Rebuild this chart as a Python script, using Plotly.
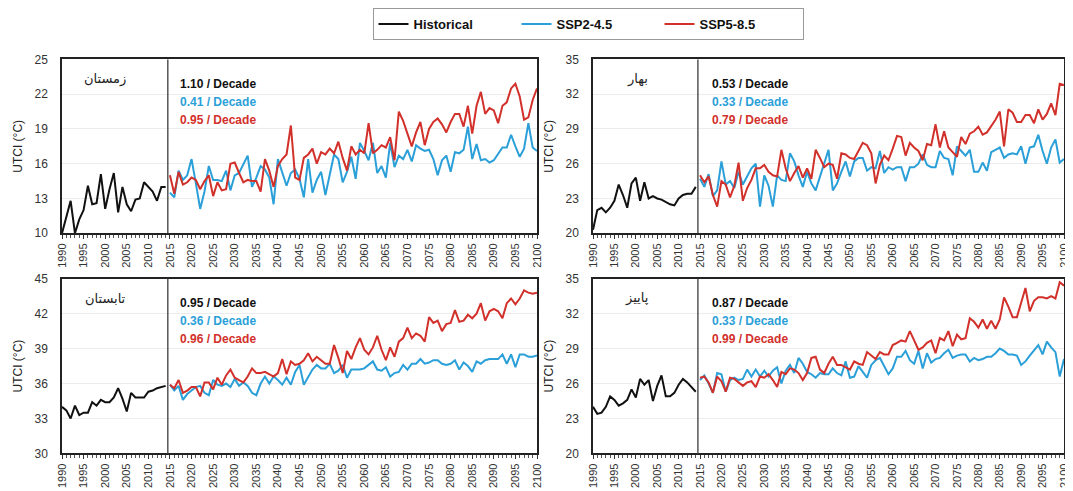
import plotly.graph_objects as go
from plotly.subplots import make_subplots

hist_years = list(range(1990, 2015))
ssp_years = list(range(2015, 2101))

# ---------------- Winter ----------------
winter_hist = [10.0, 11.5, 12.8, 10.0, 11.2, 12.0, 14.1, 12.5, 12.6, 15.1, 12.1, 13.8, 15.2,
               11.8, 14.0, 12.5, 11.9, 12.9, 13.0, 14.4, 14.0, 13.6, 12.8, 14.0, 14.0]
winter_ssp245 = [13.5, 13.1, 15.4, 14.6, 15.0, 16.4, 14.3, 12.1, 13.6, 15.8,
                 14.6, 14.6, 14.5, 15.4, 13.7, 15.0, 15.2, 16.0, 16.7, 14.0,
                 14.8, 15.8, 15.5, 14.8, 12.5, 16.4, 15.2, 14.1, 15.2, 15.5,
                 14.7, 13.1, 16.4, 13.5, 14.6, 15.3, 13.3, 15.0, 16.8, 16.4,
                 14.4, 15.3, 16.6, 14.7, 17.8, 17.1, 16.3, 17.8, 15.2, 15.8,
                 14.8, 17.8, 15.7, 16.7, 16.4, 17.2, 16.2, 17.6, 17.3, 17.1,
                 17.2, 16.4, 15.0, 16.3, 16.7, 15.3, 17.0, 16.9, 17.2, 19.2,
                 16.4, 17.7, 16.3, 16.4, 16.1, 16.3, 16.8, 17.4, 17.4, 18.5,
                 17.5, 16.6, 17.3, 19.5, 17.4, 17.1]
winter_ssp585 = [15.0, 13.4, 15.3, 14.2, 14.4, 14.8, 14.6, 13.8, 14.5, 15.0,
                 13.2, 14.4, 13.7, 13.8, 16.0, 16.1, 15.2, 14.4, 14.6, 14.5,
                 14.5, 13.6, 16.4, 15.4, 14.0, 15.8, 16.4, 16.8, 19.3, 14.8,
                 14.6, 16.5, 16.8, 17.3, 16.0, 17.0, 16.8, 17.3, 16.9, 17.9,
                 16.5, 15.4, 17.5, 16.8, 17.2, 16.9, 19.5, 16.9, 17.2, 17.6,
                 17.4, 18.3, 16.3, 20.5, 19.7, 18.5, 17.5, 18.7, 19.6, 17.6,
                 19.0, 19.6, 19.9, 19.4, 18.7, 19.6, 20.3, 20.3, 19.2, 21.0,
                 18.6, 21.0, 22.2, 20.3, 20.8, 20.6, 19.5, 21.0, 21.3, 22.5,
                 22.9, 21.8, 19.8, 20.0, 21.5, 22.5]

# ---------------- Spring ----------------
spring_hist = [20.3, 22.0, 22.2, 21.8, 22.2, 22.8, 24.2, 23.3, 22.2, 24.3, 24.8, 22.8, 24.4,
               23.0, 23.2, 23.0, 22.9, 22.7, 22.5, 22.4, 23.0, 23.3, 23.4, 23.4, 24.0]
spring_ssp245 = [24.7, 24.0, 25.1, 23.2, 23.7, 26.2, 24.2, 24.5, 23.9, 25.3,
                 24.2, 24.9, 25.6, 26.0, 22.3, 25.0, 24.1, 22.3, 25.0, 24.6,
                 24.5, 26.9, 26.2, 25.0, 24.0, 25.3, 24.3, 23.7, 24.9, 26.0,
                 27.2, 23.7, 24.3, 25.3, 26.2, 24.9, 26.2, 26.5, 26.5, 25.4,
                 25.7, 25.6, 27.1, 25.2, 25.7, 25.5, 25.7, 25.7, 24.5, 25.7,
                 25.7, 26.0, 26.8, 25.9, 25.7, 25.7, 27.1, 26.5, 26.4, 25.0,
                 27.5, 27.1, 26.7, 27.2, 25.3, 25.3, 26.1, 25.4, 27.0, 27.2,
                 27.4, 26.5, 26.8, 26.9, 26.8, 27.5, 26.0, 27.4, 27.5, 28.5,
                 27.1, 26.0, 27.4, 28.1, 26.1, 26.4]
spring_ssp585 = [25.0, 24.4, 24.9, 23.3, 22.3, 24.5, 24.2, 23.1, 24.1, 26.1,
                 22.8, 23.9, 24.6, 25.6, 25.6, 25.9, 25.3, 25.0, 24.9, 27.2,
                 25.6, 24.5, 25.2, 25.8, 24.8, 25.6, 24.7, 27.2, 26.5, 25.7,
                 26.0, 25.9, 24.7, 26.9, 26.8, 26.5, 26.4, 27.1, 27.8, 27.6,
                 26.9, 24.3, 25.9, 26.7, 26.3, 27.3, 28.4, 28.3, 26.7, 27.8,
                 27.4, 27.1, 26.3, 27.7, 27.6, 29.4, 27.4, 28.8, 27.4, 27.0,
                 26.6, 28.3, 27.7, 28.6, 28.8, 29.2, 28.5, 28.7, 29.2, 29.8,
                 30.5, 27.5, 30.7, 30.4, 29.6, 29.6, 30.2, 30.2, 29.5, 30.7,
                 29.8, 30.3, 31.2, 30.2, 32.9, 32.8]

# ---------------- Summer ----------------
summer_hist = [34.0, 33.7, 33.0, 34.1, 33.3, 33.5, 33.5, 34.4, 34.1, 34.6, 34.4, 34.4, 34.8,
               35.6, 34.7, 33.6, 35.2, 34.8, 34.8, 34.8, 35.3, 35.4, 35.6, 35.7, 35.8]
summer_ssp245 = [35.9, 35.4, 35.8, 34.6, 35.1, 35.4, 35.7, 35.8, 35.2, 35.0,
                 36.3, 35.9, 35.8, 36.0, 35.7, 36.4, 35.8, 36.1, 35.8, 35.2,
                 35.0, 36.0, 36.6, 36.0, 36.6, 36.3, 35.9, 36.5, 35.9, 37.0,
                 37.6, 35.9, 36.5, 37.2, 37.6, 37.3, 37.3, 37.7, 36.9, 37.1,
                 37.6, 36.5, 37.2, 37.2, 37.2, 37.3, 37.6, 37.9, 37.2, 37.1,
                 37.4, 36.6, 36.9, 37.0, 37.6, 37.2, 37.7, 37.7, 38.1, 37.7,
                 37.8, 38.0, 38.0, 37.7, 37.6, 37.7, 38.0, 37.2, 37.8, 37.5,
                 37.0, 37.9, 37.7, 38.0, 38.1, 38.1, 38.1, 38.5, 37.7, 38.5,
                 37.4, 38.5, 38.5, 38.3, 38.3, 38.4]
summer_ssp585 = [35.9, 35.6, 36.3, 35.2, 35.4, 35.7, 35.7, 34.9, 36.1, 36.1,
                 35.5, 36.5, 35.9, 36.7, 37.2, 36.5, 36.3, 36.1, 36.6, 37.3,
                 36.9, 36.9, 37.0, 36.8, 36.6, 36.9, 38.1, 36.8, 37.9, 37.6,
                 37.7, 38.0, 38.6, 37.9, 38.3, 38.0, 37.7, 37.7, 39.3, 38.2,
                 36.9, 38.8, 38.1, 39.1, 39.9, 38.9, 38.5, 39.1, 40.1, 38.9,
                 38.0, 39.1, 38.3, 39.6, 39.9, 40.8, 39.9, 40.3, 40.1, 39.6,
                 41.7, 41.2, 41.4, 40.5, 41.1, 41.2, 42.3, 41.3, 41.4, 41.9,
                 41.6, 42.0, 42.9, 41.4, 42.2, 42.4, 42.2, 41.6, 42.9, 43.3,
                 42.8, 43.3, 44.0, 43.8, 43.7, 43.8]

# ---------------- Autumn ----------------
autumn_hist = [24.0, 23.4, 23.5, 24.0, 24.9, 24.6, 24.1, 24.3, 24.6, 25.5, 24.8, 26.4, 25.9,
               26.3, 24.5, 25.8, 26.7, 24.9, 24.9, 25.2, 25.9, 26.4, 26.1, 25.7, 25.3]
autumn_ssp245 = [26.3, 26.7, 26.0, 25.2, 26.9, 26.8, 25.3, 26.3, 26.5, 26.3,
                 26.4, 27.2, 26.6, 27.2, 26.6, 27.1, 26.6, 27.1, 27.4, 26.0,
                 27.1, 27.6, 26.9, 28.2, 27.7, 27.0, 26.8, 26.5, 26.9, 26.8,
                 26.8, 27.3, 26.9, 26.7, 27.9, 26.5, 26.6, 27.5, 27.0, 26.5,
                 27.6, 28.0, 28.2, 27.5, 26.8, 27.3, 28.3, 28.3, 28.8, 28.0,
                 27.7, 28.8, 27.3, 28.6, 27.8, 28.1, 28.2, 28.6, 28.9, 28.2,
                 28.4, 28.5, 28.5, 27.9, 28.2, 28.0, 28.1, 28.3, 28.3, 28.6,
                 29.0, 28.8, 28.5, 28.5, 28.4, 27.6, 27.9, 28.4, 28.9, 29.3,
                 28.5, 29.6, 29.1, 28.7, 26.6, 28.1]
autumn_ssp585 = [26.5, 26.6, 26.1, 25.2, 26.6, 26.2, 25.3, 26.5, 26.4, 26.1,
                 25.8, 26.1, 26.2, 25.7, 26.6, 26.5, 26.8, 26.3, 25.7, 27.0,
                 26.8, 27.3, 27.2, 26.9, 26.3, 26.9, 28.2, 28.3, 27.2, 26.9,
                 27.7, 28.3, 27.6, 27.6, 27.4, 27.2, 27.9, 27.7, 27.6, 28.7,
                 28.4, 28.1, 28.7, 28.5, 28.5, 29.3, 29.5, 29.7, 29.6, 30.5,
                 29.7, 28.9, 29.1, 29.5, 29.7, 28.6, 29.9, 29.7, 30.5, 29.2,
                 30.2, 29.8, 29.9, 31.6, 31.3, 30.8, 31.5, 30.7, 31.4, 30.7,
                 31.5, 33.4, 32.6, 31.7, 31.7, 32.9, 34.2, 32.2, 33.1, 33.4,
                 33.4, 33.3, 33.5, 33.3, 34.7, 34.4]

season_names = ["زمستان", "بهار", "تابستان", "پاییز"]
trend_hist = ["1.10", "0.53", "0.95", "0.87"]
trend_245 = ["0.41", "0.33", "0.36", "0.33"]
trend_585 = ["0.95", "0.79", "0.96", "0.99"]
y_ranges = [(10, 25), (20, 35), (30, 45), (20, 35)]
x_ticks = list(range(1990, 2101, 5))
series_names = ["Historical", "SSP2-4.5", "SSP5-8.5"]

C_HIST = "#111111"
C_245 = "#2A9FD8"
C_585 = "#D2302A"
FONT = "Liberation Sans, Arial, sans-serif"

hists = [winter_hist, spring_hist, summer_hist, autumn_hist]
s245 = [winter_ssp245, spring_ssp245, summer_ssp245, autumn_ssp245]
s585 = [winter_ssp585, spring_ssp585, summer_ssp585, autumn_ssp585]

# page body has an 8px default margin: size the figure so it fits the window
OFF = 8
W, H = 1073 - OFF, 491 - OFF


def fx(p):  # page pixel x -> paper fraction
    return (p - OFF) / W


def fy(p):  # page pixel y -> paper fraction (from bottom)
    return 1 - (p - OFF) / H


fig = make_subplots(rows=2, cols=2)

# page-pixel layout of each panel (left, right, top, bottom)
px_boxes = [(62, 537, 54, 230), (593, 1064, 54, 230),
            (62, 537, 276, 453), (593, 1064, 276, 453)]
rc = [(1, 1), (1, 2), (2, 1), (2, 2)]

for i in range(4):
    r, c = rc[i]
    show = (i == 0)
    fig.add_trace(go.Scatter(x=hist_years, y=hists[i], mode="lines", name=f"<b>{series_names[0]}</b>",
                             line=dict(color=C_HIST, width=2), showlegend=show), row=r, col=c)
    fig.add_trace(go.Scatter(x=ssp_years, y=s245[i], mode="lines", name=f"<b>{series_names[1]}</b>",
                             line=dict(color=C_245, width=2), showlegend=show), row=r, col=c)
    fig.add_trace(go.Scatter(x=ssp_years, y=s585[i], mode="lines", name=f"<b>{series_names[2]}</b>",
                             line=dict(color=C_585, width=2), showlegend=show), row=r, col=c)

    l, rr, t, b = px_boxes[i]
    xa = "xaxis" if i == 0 else f"xaxis{i+1}"
    ya = "yaxis" if i == 0 else f"yaxis{i+1}"
    lo, hi = y_ranges[i]
    fig.layout[xa].update(
        domain=[fx(l), fx(rr)], range=[1990, 2100], automargin=False,
        tickmode="array", tickvals=x_ticks, ticktext=[str(v) for v in x_ticks],
        tickangle=-90, tickfont=dict(size=11, color="#333", family=FONT),
        ticks="outside", ticklen=4, tickcolor="#333",
        minor=dict(dtick=1, ticks="outside", ticklen=3, tickcolor="#555", showgrid=False),
        showline=True, linecolor="#222", linewidth=1.5, mirror=True,
        showgrid=False, zeroline=False,
    )
    fig.layout[ya].update(
        domain=[fy(b), fy(t)], range=[lo, hi], automargin=False,
        tickmode="array", tickvals=list(range(lo, hi + 1, 3)),
        tickfont=dict(size=12, color="#333", family=FONT), ticklabelstandoff=10,
        ticks="", showline=True, linecolor="#222", linewidth=1.5, mirror=True,
        showgrid=True, gridcolor="#ececec", gridwidth=1, zeroline=False,
        title=dict(text="UTCI (°C)", font=dict(size=12, color="#222", family=FONT),
                   standoff=9),
    )
    xref = "x" if i == 0 else f"x{i+1}"
    yref_dom = "y domain" if i == 0 else f"y{i+1} domain"
    fig.add_shape(type="line", xref=xref, yref=yref_dom, x0=2014.5, x1=2014.5, y0=0, y1=1,
                  line=dict(color="#555", width=1.5))

    # season label
    sx = 105 if c == 1 else 637
    fig.add_annotation(x=fx(sx), y=fy(t + 20), xref="paper", yref="paper",
                       text=season_names[i], showarrow=False, xanchor="center", yanchor="middle",
                       font=dict(size=13, color="#222", family="DejaVu Sans"))
    tx = 178 if c == 1 else 710
    for k, (txt, col) in enumerate([(trend_hist[i], "#111"), (trend_245[i], C_245),
                                    (trend_585[i], C_585)]):
        fig.add_annotation(x=fx(tx), y=fy(t + 25 + k * 18), xref="paper", yref="paper",
                           text=f"<b>{txt} / Decade</b>", showarrow=False,
                           xanchor="left", yanchor="middle",
                           font=dict(size=12, color=col, family=FONT))

fig.update_layout(
    width=W, height=H, margin=dict(l=0, r=0, t=0, b=0),
    paper_bgcolor="white", plot_bgcolor="white",
    legend=dict(orientation="h", x=fx(588), xanchor="center", y=fy(18), yanchor="middle",
                bordercolor="#999", borderwidth=1, bgcolor="white",
                font=dict(size=13, color="#111", family=FONT),
                entrywidth=98, entrywidthmode="pixels", itemwidth=30),
)

fig.write_html("out.html")
